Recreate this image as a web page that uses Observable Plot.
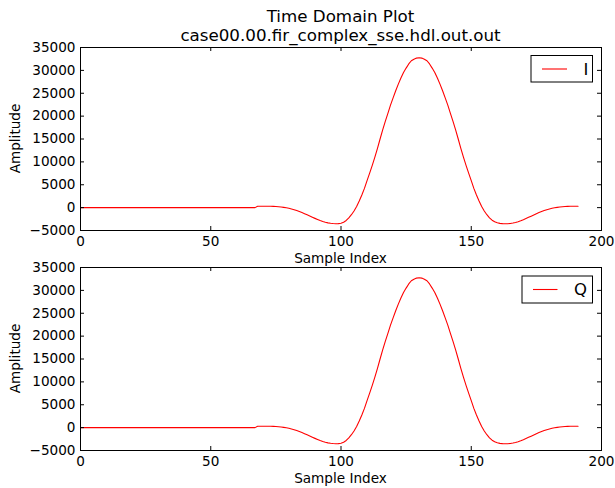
<!DOCTYPE html>
<html>
<head>
<meta charset="utf-8">
<script src="https://cdn.jsdelivr.net/npm/d3@7"></script>
<script src="https://cdn.jsdelivr.net/npm/@observablehq/plot@0.6"></script>
<style>
  html, body { margin: 0; padding: 0; background: white; }
  #wrap { position: relative; width: 615px; height: 488px; overflow: hidden; font-family: "DejaVu Sans", sans-serif; }
  .panel { position: absolute; left: 0; }
  #overlay { position: absolute; left: 0; top: 0; pointer-events: none; }
</style>
</head>
<body>
<div id="wrap">
  <div class="panel" id="p1" style="top:0px"></div>
  <div class="panel" id="p2" style="top:220px"></div>
  <svg id="overlay" width="615" height="488" font-family="DejaVu Sans, sans-serif">
    <text x="340.5" y="21.5" text-anchor="middle" font-size="16.7px" id="t1"></text>
    <text x="340.5" y="41" text-anchor="middle" font-size="16.7px" id="t2"></text>
    <text x="340.5" y="263.3" text-anchor="middle" font-size="13.6px" class="xl"></text>
    <text x="340.5" y="483.3" text-anchor="middle" font-size="13.6px" class="xl"></text>
    <text transform="translate(20,138.5) rotate(-90)" text-anchor="middle" font-size="13.6px" class="yl"></text>
    <text transform="translate(20,358.5) rotate(-90)" text-anchor="middle" font-size="13.6px" class="yl"></text>
    <g id="leg1">
      <rect x="531" y="55.5" width="61.5" height="26.5" fill="white" stroke="black" stroke-width="1"></rect>
      <line x1="542" x2="567" y1="69" y2="69" stroke="red" stroke-width="1.1"></line>
      <text x="583.5" y="74.5" font-size="16.5px" class="ln"></text>
    </g>
    <g id="leg2">
      <rect x="522" y="276" width="70.5" height="27" fill="white" stroke="black" stroke-width="1"></rect>
      <line x1="533" x2="557.5" y1="289.5" y2="289.5" stroke="red" stroke-width="1.1"></line>
      <text x="574" y="295" font-size="16.5px" class="ln"></text>
    </g>
  </svg>
</div>
<script>
// ---- Text ----
const titleLines = ["Time Domain Plot", "case00.00.fir_complex_sse.hdl.out.out"];
const xLabel = "Sample Index";
const yLabel = "Amplitude";
const seriesNames = ["I", "Q"];

// ---- Axis ticks ----
const xTicks = [0, 50, 100, 150, 200];
const yTicks = [-5000, 0, 5000, 10000, 15000, 20000, 25000, 30000, 35000];
const xDomain = [0, 200];
const yDomain = [-5000, 35000];

// ---- Series values (samples 0..191) ----
const valuesI = [
  0, 0, 0, 0, 0, 0, 0, 0, 0, 0,
  0, 0, 0, 0, 0, 0, 0, 0, 0, 0,
  0, 0, 0, 0, 0, 0, 0, 0, 0, 0,
  0, 0, 0, 0, 0, 0, 0, 0, 0, 0,
  0, 0, 0, 0, 0, 0, 0, 0, 0, 0,
  0, 0, 0, 0, 0, 0, 0, 0, 0, 0,
  0, 0, 0, 0, 0, 0, 0, 0,
  300, 300, 310, 310, 310, 300, 280, 250, 200, 140,
  60, -40, -150, -290, -450, -640, -850, -1080, -1320, -1580,
  -1840, -2100, -2350, -2590, -2820, -3030, -3200, -3330, -3420, -3480,
  -3510, -3490, -3400, -3180, -2800, -2250, -1550, -750, 250, 1450,
  2750, 4200, 5900, 7550, 9250, 11050, 12950, 15000, 17000, 18850,
  20600, 22400, 24000, 25550, 27000, 28350, 29550, 30500, 31400, 32100,
  32450, 32680, 32750, 32680, 32450, 32100, 31400, 30500, 29550, 28350,
  27000, 25550, 24000, 22400, 20600, 18850, 17000, 15000, 12950, 11050,
  9250, 7550, 5900, 4200, 2750, 1450, 250, -750, -1550, -2250,
  -2750, -3100, -3320, -3440, -3500, -3520, -3510, -3460, -3370, -3240,
  -3070, -2870, -2640, -2390, -2130, -1860, -1590, -1330, -1080, -850,
  -640, -450, -290, -150, -40, 60, 140, 200, 250, 280,
  300, 310, 310, 300
];
const valuesQ = [
  0, 0, 0, 0, 0, 0, 0, 0, 0, 0,
  0, 0, 0, 0, 0, 0, 0, 0, 0, 0,
  0, 0, 0, 0, 0, 0, 0, 0, 0, 0,
  0, 0, 0, 0, 0, 0, 0, 0, 0, 0,
  0, 0, 0, 0, 0, 0, 0, 0, 0, 0,
  0, 0, 0, 0, 0, 0, 0, 0, 0, 0,
  0, 0, 0, 0, 0, 0, 0, 0,
  300, 300, 310, 310, 310, 300, 280, 250, 200, 140,
  60, -40, -150, -290, -450, -640, -850, -1080, -1320, -1580,
  -1840, -2100, -2350, -2590, -2820, -3030, -3200, -3330, -3420, -3480,
  -3510, -3490, -3400, -3180, -2800, -2250, -1550, -750, 250, 1450,
  2750, 4200, 5900, 7550, 9250, 11050, 12950, 15000, 17000, 18850,
  20600, 22400, 24000, 25550, 27000, 28350, 29550, 30500, 31400, 32100,
  32450, 32680, 32750, 32680, 32450, 32100, 31400, 30500, 29550, 28350,
  27000, 25550, 24000, 22400, 20600, 18850, 17000, 15000, 12950, 11050,
  9250, 7550, 5900, 4200, 2750, 1450, 250, -750, -1550, -2250,
  -2750, -3100, -3320, -3440, -3500, -3520, -3510, -3460, -3370, -3240,
  -3070, -2870, -2640, -2390, -2130, -1860, -1590, -1330, -1080, -850,
  -640, -450, -290, -150, -40, 60, 140, 200, 250, 280,
  300, 310, 310, 300
];

// ---- Build panels ----
const W = 615, H = 268;
const mL = 80, mR = 14, mT = 47, mB = 38;
const innerW = W - mL - mR, innerH = H - mT - mB;
const tickLen = 4;
const fmt = d3.format("d");

function panel(values) {
  const rows = values.map((v, i) => ({index: i, value: v}));
  return Plot.plot({
    width: W, height: H,
    marginLeft: mL, marginRight: mR, marginTop: mT, marginBottom: mB,
    x: {domain: xDomain, label: null},
    y: {domain: yDomain, label: null},
    style: {fontFamily: "DejaVu Sans, sans-serif", fontSize: "13.6px", color: "black", background: "transparent", overflow: "visible"},
    marks: [
      Plot.line(rows, {x: "index", y: "value", stroke: "#ff0000", strokeWidth: 1.1}),
      Plot.tickX(xTicks, {x: d => d, insetTop: innerH - tickLen, stroke: "black"}),
      Plot.tickX(xTicks, {x: d => d, insetBottom: innerH - tickLen, stroke: "black"}),
      Plot.tickY(yTicks, {y: d => d, insetRight: innerW - tickLen, stroke: "black"}),
      Plot.tickY(yTicks, {y: d => d, insetLeft: innerW - tickLen, stroke: "black"}),
      Plot.axisX({ticks: xTicks, tickSize: 0, tickPadding: 6, tickFormat: fmt, label: null}),
      Plot.axisY({ticks: yTicks, tickSize: 0, tickPadding: 5, tickFormat: fmt, label: null}),
      Plot.frame({stroke: "black"})
    ]
  });
}

document.getElementById("p1").append(panel(valuesI));
document.getElementById("p2").append(panel(valuesQ));

document.getElementById("t1").textContent = titleLines[0];
document.getElementById("t2").textContent = titleLines[1];
document.querySelectorAll(".xl").forEach(e => e.textContent = xLabel);
document.querySelectorAll(".yl").forEach(e => e.textContent = yLabel);
const ln = document.querySelectorAll(".ln");
ln[0].textContent = seriesNames[0];
ln[1].textContent = seriesNames[1];
</script>
</body>
</html>
